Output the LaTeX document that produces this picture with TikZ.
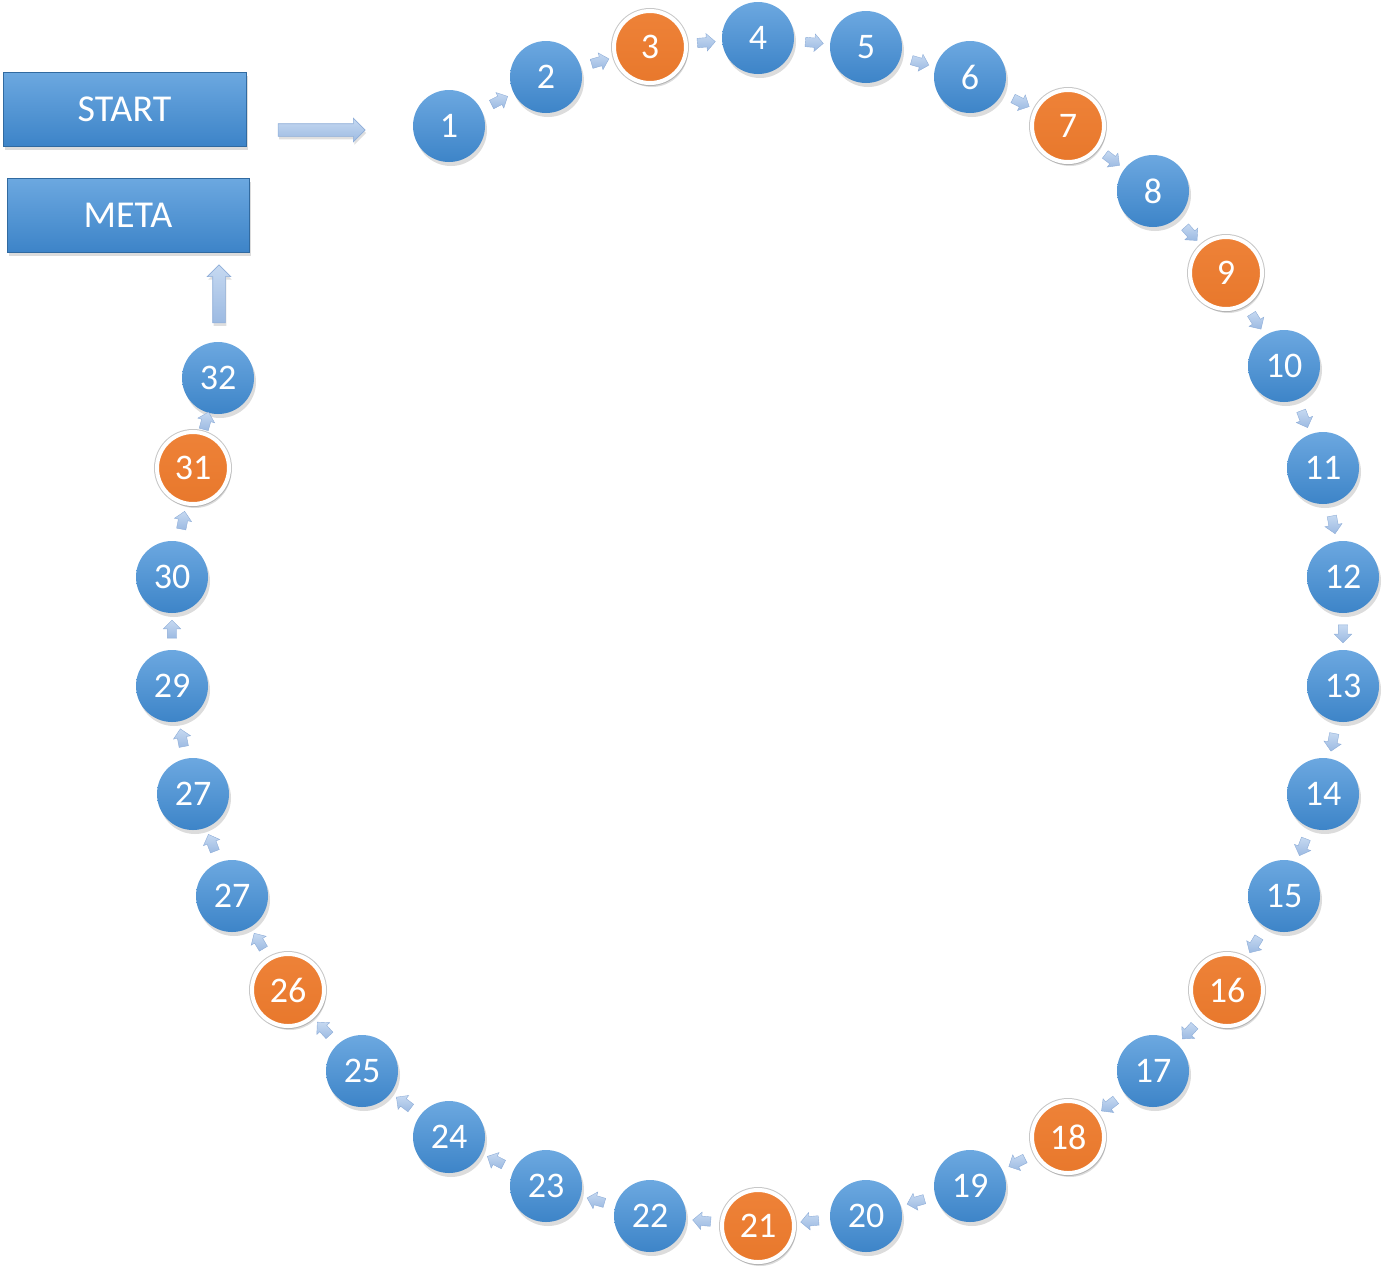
\documentclass[tikz,border=0pt]{standalone}
\usepackage{fontspec}
\setmainfont{Carlito}
\usetikzlibrary{shapes.arrows,shadows,calc}
\definecolor{btop}{HTML}{6CA8E0}
\definecolor{bbot}{HTML}{3D84C8}
\definecolor{otop}{HTML}{EE8238}
\definecolor{obot}{HTML}{E8782C}
\definecolor{atop}{HTML}{C6D9F1}
\definecolor{abot}{HTML}{9CBAE2}
\definecolor{aedge}{HTML}{8EADD8}
\tikzset{
  shad/.style={drop shadow={opacity=0.28,shadow xshift=2pt,shadow yshift=-4pt}},
  bluecirc/.style={circle,minimum size=72pt,inner sep=0pt,top color=btop,bottom color=bbot,draw=none,
    text=white,font=\fontsize{36}{40}\selectfont,shad},
  orangecirc/.style={circle,minimum size=72pt,inner sep=0pt,top color=otop,bottom color=obot,draw=white,line width=4pt,
    preaction={draw=black!22,line width=6pt},
    text=white,font=\fontsize{36}{40}\selectfont,shad},
  bbox/.style={rectangle,minimum width=243pt,minimum height=74pt,inner sep=0pt,top color=btop,bottom color=bbot,
    draw=bbot!80!black,line width=0.5pt,text=white,font=\fontsize{38}{42}\selectfont,shad},
  smallarrow/.style={single arrow,single arrow head extend=4pt,minimum height=18pt,inner xsep=0pt,inner ysep=4.5pt,
    top color=atop,bottom color=abot,draw=aedge,line width=0.4pt},
  bigarrow/.style={single arrow,single arrow head extend=5.5pt,inner xsep=0pt,inner ysep=6pt,
    top color=atop,bottom color=abot,draw=aedge,line width=0.6pt,
    drop shadow={opacity=0.25,shadow xshift=1pt,shadow yshift=-3pt}},
}
\begin{document}
\begin{tikzpicture}[x=1pt,y=-1pt]
\useasboundingbox (0,0) rectangle (1383,1272);
\node[bbox] (start) at (124.5,109) {START};
\node[bbox,minimum width=242pt] (meta) at (128,215) {META};
\foreach \i/\x/\y/\s/\l in {
 1/449/126/bluecirc/1, 2/546/77/bluecirc/2, 3/650/47/orangecirc/3, 4/758/38/bluecirc/4,
 5/866/47/bluecirc/5, 6/970/77/bluecirc/6, 7/1068/126/orangecirc/7, 8/1153/191/bluecirc/8,
 9/1226/273/orangecirc/9, 10/1284/366/bluecirc/10, 11/1323/468/bluecirc/11, 12/1343/577/bluecirc/12,
 13/1343/686/bluecirc/13, 14/1323/794/bluecirc/14, 15/1284/896/bluecirc/15, 16/1227/990/orangecirc/16,
 17/1153/1071/bluecirc/17, 18/1068/1137/orangecirc/18, 19/970/1186/bluecirc/19, 20/866/1216/bluecirc/20,
 21/758/1226/orangecirc/21, 22/650/1216/bluecirc/22, 23/546/1186/bluecirc/23, 24/449/1137/bluecirc/24,
 25/362/1071/bluecirc/25, 26/288/990/orangecirc/26, 27/232/896/bluecirc/27, 28/193/794/bluecirc/27,
 29/172/686/bluecirc/29, 30/172/577/bluecirc/30, 31/193/468/orangecirc/31, 32/218/378/bluecirc/32}
 {\node[\s] (n\i) at (\x,\y) {\l};}
\foreach \i [evaluate=\i as \j using int(\i+1)] in {1,...,31}{
  \path let \p1=($(n\j)-(n\i)$), \n1={atan2(\y1,\x1)} in
    node[smallarrow,rotate=\n1] (a\i) at ($(n\i)!0.5!(n\j)$) {};
}
\coordinate (s1) at (275,130);
\coordinate (s2) at (362,130);
\path let \p1=($(s2)-(s1)$), \n1={veclen(\x1,\y1)} in
  node[bigarrow,minimum height=\n1] (bigA) at ($(s1)!0.5!(s2)$) {};
\coordinate (m1) at (219,326);
\coordinate (m2) at (219,268);
\path let \p1=($(m2)-(m1)$), \n1={veclen(\x1,\y1)} in
  node[bigarrow,minimum height=\n1,rotate=90] (bigB) at ($(m1)!0.5!(m2)$) {};
\end{tikzpicture}
\end{document}
